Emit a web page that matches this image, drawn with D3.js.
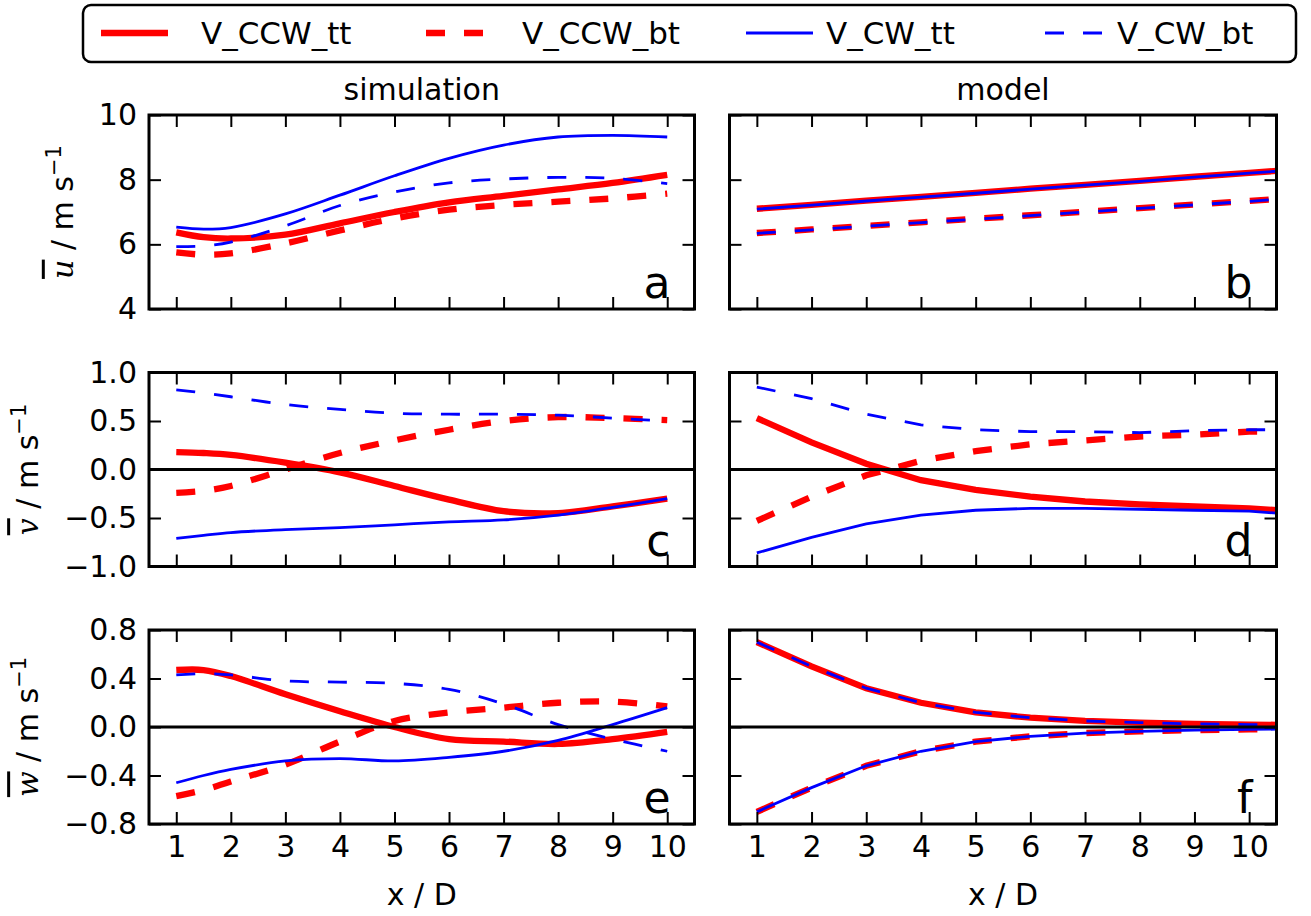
<!DOCTYPE html>
<html>
<head>
<meta charset="utf-8">
<script src="https://cdn.jsdelivr.net/npm/d3@7"></script>
<style>
  body { margin: 0; background: #fff; }
  svg { display: block; font-family: "DejaVu Sans", sans-serif; }
</style>
</head>
<body>
<svg id="chart" width="1311" height="916"></svg>
<script>
// x positions (x / D)
const simX = [1, 1.5, 2, 3, 4, 5, 6, 7, 8, 9, 10];
const modelX = [1, 2, 3, 4, 5, 6, 7, 8, 9, 10, 10.5];
const xTicks = [1, 2, 3, 4, 5, 6, 7, 8, 9, 10];

// u - simulation (a)
const uSimCCWtt = [6.37, 6.22, 6.18, 6.3, 6.65, 7.0, 7.3, 7.5, 7.7, 7.9, 8.15];
const uSimCCWbt = [5.75, 5.68, 5.72, 6.03, 6.43, 6.8, 7.07, 7.22, 7.32, 7.42, 7.57];
const uSimCWtt  = [6.53, 6.47, 6.52, 6.94, 7.52, 8.12, 8.66, 9.07, 9.32, 9.37, 9.32];
const uSimCWbt  = [5.93, 5.95, 6.07, 6.57, 7.2, 7.62, 7.9, 8.02, 8.07, 8.04, 7.88];
// u - model (b)
const uModCCWtt = [7.1, 7.22, 7.35, 7.47, 7.59, 7.72, 7.84, 7.96, 8.09, 8.21, 8.27];
const uModCCWbt = [6.35, 6.46, 6.57, 6.68, 6.79, 6.9, 7.01, 7.12, 7.23, 7.34, 7.4];
const uModCWtt  = [7.09, 7.21, 7.34, 7.46, 7.58, 7.71, 7.83, 7.95, 8.08, 8.2, 8.26];
const uModCWbt  = [6.34, 6.45, 6.56, 6.67, 6.78, 6.89, 7.0, 7.11, 7.22, 7.33, 7.39];

// v - simulation (c)
const vSimCCWtt = [0.18, 0.17, 0.15, 0.07, -0.03, -0.17, -0.31, -0.43, -0.45, -0.38, -0.3];
const vSimCCWbt = [-0.24, -0.22, -0.17, 0.0, 0.17, 0.3, 0.41, 0.5, 0.54, 0.53, 0.51];
const vSimCWtt  = [-0.71, -0.68, -0.65, -0.62, -0.6, -0.57, -0.54, -0.52, -0.47, -0.39, -0.3];
const vSimCWbt  = [0.82, 0.79, 0.75, 0.67, 0.62, 0.58, 0.57, 0.57, 0.56, 0.53, 0.5];
// v - model (d)
const vModCCWtt = [0.53, 0.28, 0.06, -0.11, -0.21, -0.28, -0.33, -0.36, -0.38, -0.4, -0.42];
const vModCCWbt = [-0.53, -0.28, -0.06, 0.09, 0.19, 0.26, 0.3, 0.34, 0.36, 0.39, 0.39];
const vModCWtt  = [-0.86, -0.7, -0.56, -0.47, -0.42, -0.4, -0.4, -0.41, -0.42, -0.43, -0.45];
const vModCWbt  = [0.85, 0.73, 0.57, 0.46, 0.41, 0.39, 0.39, 0.38, 0.4, 0.41, 0.41];

// w - simulation (e)
const wSimCCWtt = [0.47, 0.47, 0.42, 0.27, 0.13, 0.0, -0.1, -0.12, -0.14, -0.1, -0.04];
const wSimCCWbt = [-0.57, -0.52, -0.45, -0.31, -0.12, 0.05, 0.12, 0.16, 0.2, 0.21, 0.17];
const wSimCWtt  = [-0.46, -0.4, -0.35, -0.28, -0.26, -0.28, -0.25, -0.2, -0.11, 0.02, 0.16];
const wSimCWbt  = [0.43, 0.44, 0.43, 0.38, 0.37, 0.36, 0.31, 0.19, 0.02, -0.1, -0.2];
// w - model (f)
const wModCCWtt = [0.7, 0.5, 0.32, 0.2, 0.12, 0.077, 0.05, 0.036, 0.026, 0.02, 0.018];
const wModCCWbt = [-0.7, -0.5, -0.32, -0.2, -0.12, -0.077, -0.05, -0.036, -0.026, -0.02, -0.018];
const wModCWtt  = [-0.7, -0.5, -0.32, -0.2, -0.12, -0.077, -0.05, -0.036, -0.026, -0.02, -0.018];
const wModCWbt  = [0.7, 0.5, 0.32, 0.2, 0.12, 0.077, 0.05, 0.036, 0.026, 0.02, 0.018];

const seriesNames = ["V_CCW_tt", "V_CCW_bt", "V_CW_tt", "V_CW_bt"];
const seriesStyle = [
  { color: "#ff0000", width: 6.3, dash: null },
  { color: "#ff0000", width: 6.3, dash: "19,19" },
  { color: "#0000ff", width: 2.8, dash: null },
  { color: "#0000ff", width: 2.8, dash: "19,19" }
];

const rowsInfo = [
  { sym: "u", domain: [4, 10], ticks: [4, 6, 8, 10], fmt: d3.format("d"), zero: false },
  { sym: "v", domain: [-1, 1], ticks: [-1, -0.5, 0, 0.5, 1], fmt: d3.format(".1f"), zero: true },
  { sym: "w", domain: [-0.8, 0.8], ticks: [-0.8, -0.4, 0, 0.4, 0.8], fmt: d3.format(".1f"), zero: true }
];

const panels = [
  { label: "a", row: 0, col: 0, x: simX, ys: [uSimCCWtt, uSimCCWbt, uSimCWtt, uSimCWbt] },
  { label: "b", row: 0, col: 1, x: modelX, ys: [uModCCWtt, uModCCWbt, uModCWtt, uModCWbt] },
  { label: "c", row: 1, col: 0, x: simX, ys: [vSimCCWtt, vSimCCWbt, vSimCWtt, vSimCWbt] },
  { label: "d", row: 1, col: 1, x: modelX, ys: [vModCCWtt, vModCCWbt, vModCWtt, vModCWbt] },
  { label: "e", row: 2, col: 0, x: simX, ys: [wSimCCWtt, wSimCCWbt, wSimCWtt, wSimCWbt] },
  { label: "f", row: 2, col: 1, x: modelX, ys: [wModCCWtt, wModCCWbt, wModCWtt, wModCWbt] }
];

const colX = [[149, 694.5], [729.5, 1276.5]];
const rowY = [[115, 309], [372.5, 566.5], [630, 824]];
const colTitles = ["simulation", "model"];

const svg = d3.select("#chart");
const defs = svg.append("defs");
const FONT = 30;

panels.forEach((p, i) => {
  const info = rowsInfo[p.row];
  const [x0, x1] = colX[p.col];
  const [y0, y1] = rowY[p.row];
  const x = d3.scaleLinear().domain([0.5, 10.5]).range([x0, x1]);
  const y = d3.scaleLinear().domain(info.domain).range([y1, y0]);
  const g = svg.append("g");

  defs.append("clipPath").attr("id", "clip" + i)
    .append("rect").attr("x", x0).attr("y", y0).attr("width", x1 - x0).attr("height", y1 - y0);

  const curve = p.col === 0 ? d3.curveCatmullRom.alpha(0.5) : d3.curveLinear;
  const line = d3.line().x(d => x(d[0])).y(d => y(d[1])).curve(curve);

  const plot = g.append("g").attr("clip-path", `url(#clip${i})`);
  p.ys.forEach((vals, k) => {
    const st = seriesStyle[k];
    plot.append("path")
      .datum(p.x.map((xv, j) => [xv, vals[j]]))
      .attr("d", line)
      .attr("fill", "none")
      .attr("stroke", st.color)
      .attr("stroke-width", st.width)
      .attr("stroke-dasharray", st.dash);
  });

  if (info.zero) {
    plot.append("line")
      .attr("x1", x0).attr("x2", x1)
      .attr("y1", y(0)).attr("y2", y(0))
      .attr("stroke", "#000").attr("stroke-width", 2.8);
  }

  // inward ticks on all four sides
  const tk = 12;
  const left = d3.axisLeft(y).tickValues(info.ticks).tickSize(-tk).tickPadding(12)
    .tickFormat(p.col === 0 ? (d => info.fmt(d).replace("-", "\u2212")) : "");
  const right = d3.axisRight(y).tickValues(info.ticks).tickSize(-tk).tickFormat("");
  const top = d3.axisTop(x).tickValues(xTicks).tickSize(-tk).tickFormat("");
  const bottom = d3.axisBottom(x).tickValues(xTicks).tickSize(-tk).tickPadding(12)
    .tickFormat(p.row === 2 ? d3.format("d") : "");

  let leftAxis;
  [[left, `translate(${x0},0)`], [right, `translate(${x1},0)`],
   [top, `translate(0,${y0})`], [bottom, `translate(0,${y1})`]].forEach(([ax, tr], n) => {
    const a = g.append("g").attr("transform", tr).call(ax);
    a.select(".domain").remove();
    a.selectAll("line").attr("stroke", "#000").attr("stroke-width", 2);
    a.selectAll("text").attr("font-family", "DejaVu Sans").attr("font-size", FONT).attr("fill", "#000");
    if (n === 0) leftAxis = a;
  });

  g.append("rect")
    .attr("x", x0).attr("y", y0).attr("width", x1 - x0).attr("height", y1 - y0)
    .attr("fill", "none").attr("stroke", "#000").attr("stroke-width", 3);

  g.append("text")
    .attr("x", x1 - 24).attr("y", y1 - 11)
    .attr("text-anchor", "end")
    .attr("font-size", 44)
    .text(p.label);

  if (p.row === 2) {
    g.append("text")
      .attr("x", (x0 + x1) / 2).attr("y", 905)
      .attr("text-anchor", "middle")
      .attr("font-size", FONT)
      .text("x / D");
  }
  if (p.row === 0) {
    g.append("text")
      .attr("x", (x0 + x1) / 2).attr("y", 100)
      .attr("text-anchor", "middle")
      .attr("font-size", FONT)
      .text(colTitles[p.col]);
  }
  if (p.col === 0) {
    // label sits left of the widest tick label, like matplotlib does
    const bb = leftAxis.node().getBBox();
    const lx = x0 + bb.x - 26;
    const cy = (y0 + y1) / 2;
    const t = g.append("text")
      .attr("transform", `translate(${lx},${cy}) rotate(-90)`)
      .attr("text-anchor", "middle")
      .attr("font-size", FONT);
    t.append("tspan")
      .attr("font-family", "DejaVu Serif")
      .attr("font-style", "italic")
      .style("text-decoration", "overline")
      .text(info.sym);
    t.append("tspan").text(" / m s");
    t.append("tspan").attr("font-size", 21).attr("dy", -12).text("\u22121");
  }
});

// legend (expanded across the box, columns placed as in the figure)
const legHandleX = [101, 426, 746, 1045];
const legTextX = [201, 522, 826, 1117];
const legG = svg.append("g");
legG.append("rect")
  .attr("x", 83).attr("y", 5).attr("width", 1213).attr("height", 57)
  .attr("rx", 8).attr("fill", "#fff").attr("stroke", "#000").attr("stroke-width", 2.5);
const ly = 33;
seriesNames.forEach((name, k) => {
  const st = seriesStyle[k];
  legG.append("line")
    .attr("x1", legHandleX[k]).attr("x2", legHandleX[k] + 67).attr("y1", ly).attr("y2", ly)
    .attr("stroke", st.color).attr("stroke-width", st.width)
    .attr("stroke-dasharray", st.dash);
  legG.append("text")
    .attr("x", legTextX[k]).attr("y", ly + 11)
    .attr("font-size", 31)
    .text(name);
});
</script>
</body>
</html>
